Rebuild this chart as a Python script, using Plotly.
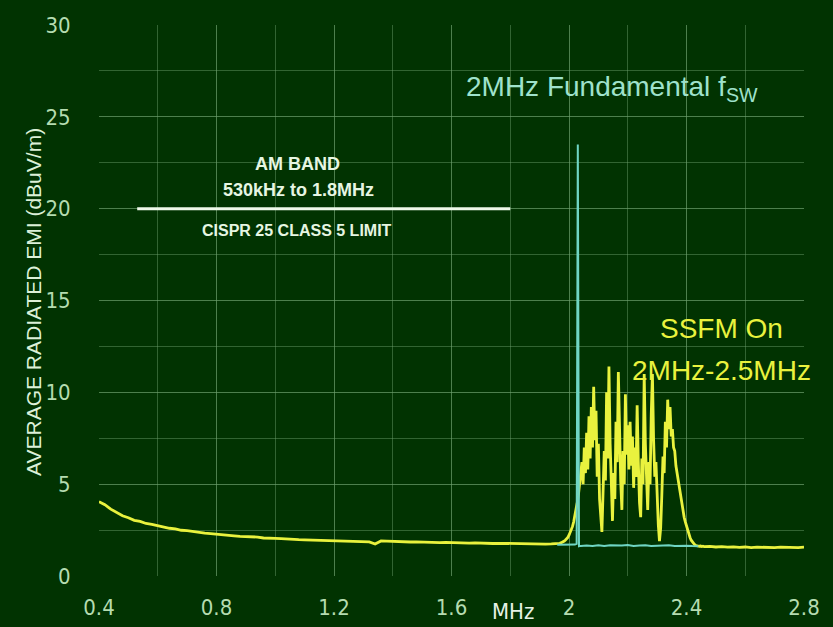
import numpy as np
import plotly.graph_objects as go

# ---------------- data ----------------
# Yellow trace (SSFM on), low-frequency floor 0.40 .. 1.94 MHz, step 0.02
floor_x = [round(0.40 + 0.02 * i, 3) for i in range(78)]
floor_y = [4.05, 3.88, 3.64, 3.47, 3.28, 3.17, 3.03, 2.97, 2.86, 2.81,
           2.73, 2.67, 2.60, 2.57, 2.49, 2.47, 2.41, 2.39, 2.33, 2.31,
           2.27, 2.25, 2.21, 2.19, 2.16, 2.15, 2.11, 2.12, 2.07, 2.08,
           2.05, 2.04, 2.01, 2.02, 1.98, 1.97, 1.96, 1.94, 1.95, 1.92,
           1.91, 1.90, 1.91, 1.88, 1.89, 1.87, 1.86, 1.74, 1.91, 1.90,
           1.88, 1.89, 1.86, 1.85, 1.86, 1.84, 1.83, 1.84, 1.82, 1.83,
           1.81, 1.80, 1.81, 1.79, 1.80, 1.78, 1.79, 1.77, 1.78, 1.77,
           1.76, 1.77, 1.76, 1.75, 1.76, 1.75, 1.74, 1.75]

# Yellow trace, spread-spectrum band 1.960 .. 2.460 MHz, step 0.004
band_x = [round(1.960 + 0.004 * i, 3) for i in range(126)]
band_y = [1.75, 1.76, 1.78, 1.80, 1.82, 1.86, 1.90, 1.96, 2.02, 2.10,
          2.22, 2.35, 2.50, 2.70, 2.95, 3.25, 3.60, 4.00, 4.40, 4.90,
          5.40, 6.20, 5.00, 7.00, 5.60, 7.80, 5.80, 8.70, 6.40, 9.20,
          7.00, 10.30, 7.40, 9.00, 5.40, 7.20, 4.20, 3.00, 2.40, 4.60,
          6.80, 5.20, 10.00, 6.40, 11.40, 7.20, 4.80, 3.00, 5.60, 4.20,
          8.40, 6.20, 11.10, 7.60, 5.20, 3.60, 6.80, 5.00, 9.90, 6.60,
          8.20, 5.80, 8.40, 6.00, 7.60, 4.80, 7.00, 5.40, 9.30, 6.20,
          4.00, 3.20, 6.40, 5.00, 11.00, 7.20, 4.60, 3.60, 6.20, 5.00,
          8.80, 11.00, 7.40, 5.40, 6.20, 4.20, 2.80, 1.90, 2.60, 4.40,
          6.50, 5.60, 8.40, 7.00, 9.60, 8.00, 9.20, 7.60, 8.00, 7.00,
          6.80, 6.00, 5.60, 5.00, 4.70, 4.30, 3.90, 3.50, 3.20, 2.95,
          2.70, 2.45, 2.25, 2.10, 1.95, 1.85, 1.75, 1.70, 1.66, 1.64,
          1.65, 1.62, 1.63, 1.60, 1.62, 1.60]

# Yellow trace, high-frequency floor 2.48 .. 2.80 MHz, step 0.02
tail_x = [round(2.48 + 0.02 * i, 3) for i in range(17)]
tail_y = [1.61, 1.58, 1.60, 1.57, 1.59, 1.56, 1.58, 1.55, 1.57, 1.56,
          1.58, 1.55, 1.57, 1.56, 1.58, 1.55, 1.57]

# Cyan trace (SSFM off): fundamental spike at ~2.03 MHz
fund_x = [1.96, 1.98, 2.00, 2.02, 2.026, 2.030, 2.034, 2.04, 2.06, 2.08,
          2.10, 2.12, 2.14, 2.16, 2.18, 2.20, 2.22, 2.24, 2.26, 2.28,
          2.30, 2.32, 2.34, 2.36, 2.38, 2.40, 2.42, 2.44]
fund_y = [1.70, 1.69, 1.70, 1.71, 1.75, 23.50, 1.62, 1.64, 1.66, 1.63,
          1.67, 1.64, 1.68, 1.65, 1.66, 1.69, 1.64, 1.66, 1.68, 1.64,
          1.66, 1.65, 1.67, 1.64, 1.66, 1.65, 1.63, 1.62]

# CISPR 25 class 5 limit line (AM band)
limit_x = [0.53, 1.80]
limit_y = [20, 20]

x_ticks = [0.4, 0.8, 1.2, 1.6, 2.0, 2.4, 2.8]
x_tick_text = ["0.4", "0.8", "1.2", "1.6", "2", "2.4", "2.8"]
y_ticks = [0, 5, 10, 15, 20, 25, 30]

ssfm_x = floor_x + band_x + tail_x
ssfm_y = floor_y + band_y + tail_y

# ---------------- figure ----------------
W, H = 833, 627
ML, MR, MT, MB = 99, 29, 25, 51
BG = "#013301"
GRID = "rgba(110,160,110,0.45)"
TICK_COL = "#b5dcb0"
YEL = "#e9f23e"
CYAN = "#6fd6c4"
NARROW = "Liberation Sans Narrow, DejaVu Sans Condensed, Arial Narrow, sans-serif"

fig = go.Figure()
fig.add_trace(go.Scatter(x=ssfm_x, y=ssfm_y, mode="lines",
                         line=dict(color=YEL, width=2.8), hoverinfo="skip"))
fig.add_trace(go.Scatter(x=fund_x, y=fund_y, mode="lines",
                         line=dict(color=CYAN, width=2), hoverinfo="skip"))
fig.add_trace(go.Scatter(x=limit_x, y=limit_y, mode="lines",
                         line=dict(color="#eef8ea", width=3), hoverinfo="skip"))

tick_font = dict(family=NARROW, size=22, color=TICK_COL)

fig.update_layout(
    width=W, height=H,
    margin=dict(l=ML, r=MR, t=MT, b=MB, autoexpand=False),
    paper_bgcolor=BG, plot_bgcolor=BG,
    showlegend=False,
    xaxis=dict(range=[0.4, 2.8], tickvals=x_ticks, ticktext=x_tick_text,
               automargin=False,
               showgrid=True, gridcolor=GRID, gridwidth=1,
               minor=dict(dtick=0.2, tick0=0.4, showgrid=True, gridcolor=GRID, gridwidth=1),
               zeroline=False, showline=False, tickfont=tick_font,
               ticks="outside", ticklen=12, tickcolor="rgba(0,0,0,0)"),
    yaxis=dict(range=[0, 30], tickvals=y_ticks,
               automargin=False,
               showgrid=True, gridcolor=GRID, gridwidth=1,
               minor=dict(dtick=2.5, tick0=0, showgrid=True, gridcolor=GRID, gridwidth=1),
               zeroline=False, showline=False, tickfont=tick_font,
               ticks="outside", ticklen=23, tickcolor="rgba(0,0,0,0)"),
)

white = "#e6f6e2"
bold_font = "Liberation Sans, Arial, sans-serif"
anns = [
    dict(x=33, y=302, text="AVERAGE RADIATED EMI (dBuV/m)", textangle=-90,
         font=dict(family="Liberation Sans, Arial, sans-serif", size=21, color="#dcf0d8")),
    dict(x=513, y=611, text="MHz",
         font=dict(family=NARROW, size=22, color="#e6f2e6")),
    dict(x=297, y=164, text="<b>AM BAND</b>",
         font=dict(family=bold_font, size=18, color=white)),
    dict(x=298, y=190, text="<b>530kHz to 1.8MHz</b>",
         font=dict(family=bold_font, size=18, color=white)),
    dict(x=297, y=230, text="<b>CISPR 25 CLASS 5 LIMIT</b>",
         font=dict(family=bold_font, size=16, color=white)),
    dict(x=612, y=88, text="2MHz Fundamental f<sub>SW</sub>",
         font=dict(family="Liberation Sans, Arial, sans-serif", size=28, color="#9fe2cc")),
    dict(x=721, y=328, text="SSFM On",
         font=dict(family="Liberation Sans, Arial, sans-serif", size=28, color=YEL)),
    dict(x=721, y=370, text="2MHz-2.5MHz",
         font=dict(family="Liberation Sans, Arial, sans-serif", size=28, color=YEL)),
]
PW, PH = W - ML - MR, H - MT - MB
for a in anns:
    px, py = a.pop("x"), a.pop("y")
    fig.add_annotation(x=(px - ML) / PW, y=(H - MB - py) / PH, xref="paper", yref="paper",
                       xanchor="center", yanchor="middle", showarrow=False, **a)

fig.write_html("out.html")
